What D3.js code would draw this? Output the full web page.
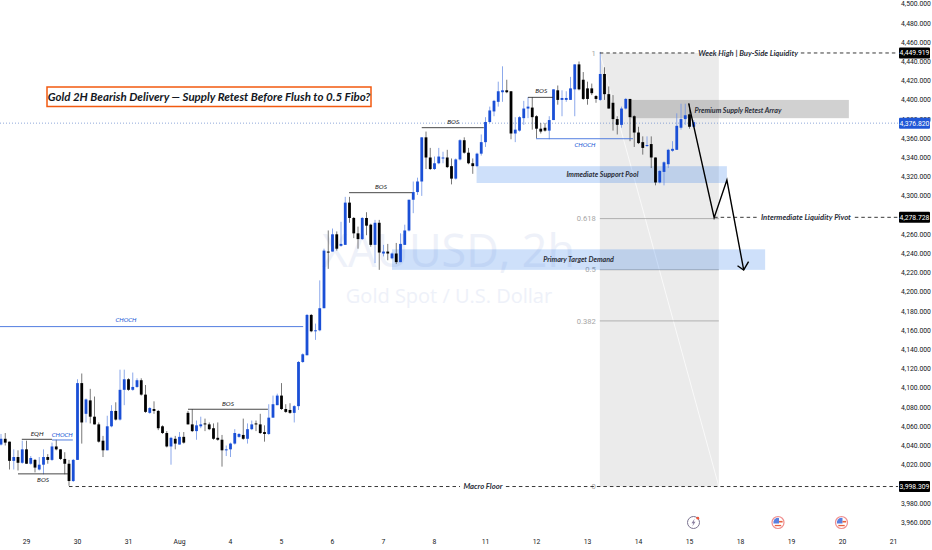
<!doctype html>
<meta charset="utf-8">
<script src="https://d3js.org/d3.v7.min.js"></script>
<style>
html, body { margin: 0; background: #fff; overflow: hidden; }
svg { display: block; }
.note { font-family: Lato, "Open Sans", sans-serif; font-style: italic; font-weight: 700; fill: #2a2e39; }
.thin { font-weight: 400; }
.axis text { font-family: Roboto, sans-serif; fill: #131722; }
.axis .domain { display: none; }
</style>
<body></body>
<script>

var width = 932;
var height = 550;

var opens = [
4041,4047,4044,4024,4028,4022,4036,4021,4025,4015,
4020,4028,4025,4039,4036,4026,4021,4003,4025,4105,
4073,4087,4070,4062,4045,4035,4060,4076,4067,4098,
4109,4098,4101,4108,4093,4074,4078,4076,4060,4053,
4039,4047,4041,4049,4074,4062,4055,4060,4063,4062,
4058,4048,4046,4035,4036,4042,4049,4051,4047,4057,
4063,4062,4054,4052,4069,4082,4092,4078,4077,4074,
4081,4127,4134,4176,4159,4160,4183,4242,4242,4260,
4248,4249,4293,4277,4261,4255,4277,4270,4249,4272,
4240,4242,4235,4240,4231,4249,4264,4296,4304,4315,
4361,4340,4328,4334,4339,4340,4331,4318,4338,4358,
4345,4334,4331,4344,4356,4377,4388,4398,4408,4410,
4409,4365,4368,4381,4391,4392,4383,4370,4371,4368,
4379,4410,4400,4400,4400,4411,4437,4421,4412,4412,
4404,4400,4427,4406,4397,4380,4374,4391,4401,4383,
4366,4356,4352,4354,4340,4314,4325,4333,4347,4348,
4371,4380,4385,4372];

var highs = [
4052,4053,4044,4036,4035,4045,4045,4029,4026,4028,
4036,4031,4043,4046,4036,4033,4025,4026,4109,4115,
4089,4099,4091,4064,4050,4071,4082,4085,4119,4119,
4110,4116,4110,4110,4103,4080,4086,4077,4061,4055,
4049,4050,4054,4054,4076,4078,4066,4070,4068,4064,
4063,4064,4051,4040,4043,4057,4053,4068,4063,4066,
4066,4073,4061,4083,4092,4094,4105,4083,4084,4082,
4128,4136,4177,4177,4167,4212,4245,4264,4266,4263,
4273,4299,4299,4278,4268,4278,4283,4271,4275,4275,
4249,4250,4241,4251,4261,4270,4296,4315,4319,4361,
4367,4350,4341,4350,4346,4348,4339,4339,4359,4361,
4350,4339,4345,4364,4382,4393,4400,4419,4435,4421,
4409,4382,4383,4399,4403,4403,4384,4376,4376,4383,
4411,4415,4410,4409,4424,4437,4440,4429,4419,4417,
4405,4450,4434,4414,4405,4383,4393,4402,4401,4384,
4372,4362,4362,4362,4340,4327,4336,4349,4357,4386,
4396,4396,4396,4379];

var lows = [
4040,4040,4015,4015,4014,4021,4021,4020,4012,4014,
4010,4021,4024,4035,4025,4010,3998,4002,4025,4042,
4064,4063,4062,4043,4028,4035,4059,4066,4066,4082,
4097,4097,4100,4092,4074,4073,4073,4056,4052,4038,
4020,4036,4041,4042,4062,4054,4046,4058,4055,4056,
4046,4045,4018,4029,4028,4041,4048,4046,4042,4056,
4055,4052,4044,4051,4069,4082,4077,4074,4073,4064,
4077,4126,4134,4158,4150,4159,4183,4224,4242,4243,
4247,4249,4272,4256,4245,4254,4259,4247,4230,4223,
4237,4233,4234,4229,4231,4249,4263,4282,4301,4300,
4328,4327,4327,4333,4334,4329,4312,4317,4337,4344,
4333,4323,4330,4342,4351,4376,4383,4393,4398,4407,
4359,4356,4367,4374,4381,4369,4360,4365,4367,4359,
4379,4395,4383,4398,4400,4383,4410,4400,4395,4405,
4397,4399,4400,4391,4368,4364,4371,4390,4357,4351,
4354,4343,4351,4329,4311,4313,4311,4329,4346,4348,
4369,4374,4370,4371];

var closes = [
4047,4043,4024,4028,4022,4036,4021,4027,4017,4020,
4028,4025,4039,4036,4026,4021,4003,4025,4105,4064,
4088,4070,4062,4044,4035,4060,4076,4067,4098,4109,
4098,4101,4108,4093,4075,4079,4076,4058,4053,4039,
4048,4042,4049,4043,4062,4055,4061,4062,4062,4057,
4047,4046,4035,4036,4042,4053,4052,4047,4057,4062,
4062,4053,4052,4069,4083,4092,4078,4075,4074,4081,
4127,4135,4176,4159,4160,4183,4243,4241,4260,4245,
4250,4293,4277,4261,4255,4277,4269,4249,4272,4241,
4242,4240,4240,4231,4250,4264,4296,4304,4315,4361,
4340,4328,4334,4341,4340,4330,4318,4338,4358,4345,
4334,4331,4344,4356,4377,4389,4399,4409,4410,4408,
4365,4369,4382,4391,4393,4382,4370,4367,4368,4379,
4411,4400,4402,4402,4412,4437,4411,4401,4401,4407,
4401,4427,4406,4391,4380,4374,4391,4401,4382,4366,
4355,4350,4353,4340,4314,4326,4335,4348,4349,4373,
4380,4384,4372,4376.82];

var dayLabels = ["29","30","31","Aug","4","5","6","7","8","11","12","13","14","15","18","19","20","21"];
var dayBars = [5.88,17.88,29.88,41.88,53.88,65.88,77.88,89.88,101.88,113.88,125.88,137.88,149.88,161.88,173.88,185.88,197.88,209.88];
// 4,280 and 4,000 sit fully behind the price tags
var priceTicks = d3.range(3960, 4501, 20).filter(function(d) { return d != 4280 && d != 4000; });

// zones: bar from, bar to, price top, price bottom
var zoneSupply = [148.2, 199.5, 4401, 4382];
var zoneSupport = [111.9, 170.8, 4332, 4314.5];
var zoneDemand = [92, 179.8, 4245.4, 4224];

// structure lines: bar from, bar to, price
var blackLines = [[4.9,12,4047.5],[4,15.8,4011.5],[44,62.8,4078.8],[81.9,96.7,4304.4],[99,113.6,4372.1],[124,129.9,4403.7]];
var blueLines = [[-0.3,71.1,4164.9],[12,16.9,4046.8],[125.9,148.7,4360.6]];

// small labels: text, bar, price
var blackLabels = [["BOS",9.9,4005],["BOS",53.4,4084.3],["BOS",89.4,4310.3],["BOS",106.4,4378],["BOS",127.1,4410.3],["EQH",8.5,4053]];
var blueLabels = [["CHOCH",29.4,4171.8],["CHOCH",14.4,4052],["CHOCH",137.4,4354]];
var zoneLabels = [["Immediate Support Pool",141.5,4323.3],["Primary Target Demand",135.9,4234.3],["Premium Supply Retest Array",173.4,4390.5]];
var levelLabels = [["Week High | Buy-Side Liquidity",175.8,4449.919],["Intermediate Liquidity Pivot",189.4,4278.728],["Macro Floor",113.4,3998.309]];

// dashed levels: price, then bar pairs
var dashed = [[4449.919,140.9,163.5],[4449.919,188.2,211.06],[4278.728,167.8,177.9],[4278.728,200.9,211.06],[3998.309,16,108],[3998.309,118.8,211.06]];

var fibHigh = 4449.919;
var fibLow = 3998.309;
var fibFrom = 140.9;
var fibTo = 168.9;
var fibLevels = [1, 0.618, 0.5, 0.382, 0];
var fibText = ["1", "0.618", "0.5", "0.382", "0"];

var arrowBars = [161.8,167.8,170.8,174.75];
var arrowPrices = [4397.5,4278.3,4317.6,4223.9];
var headBars = [173.3,174.75,175.9];
var headPrices = [4228.3,4223.9,4232.5];

var tags = [[4449.919,"4,449.919","#000"],[4376.82,"4,376.820","#2157d6"],[4278.728,"4,278.728","#000"],[3998.309,"3,998.309","#000"]];

var lastPrice = 4376.82;
var axisBar = 211.06;

var x = d3.scaleLinear().domain([0, 163]).range([1, 693.75]);
var y = d3.scaleLinear().domain([4500, 3960]).range([4.9, 523.3]);

var svg = d3.select("body").append("svg")
    .attr("width", width)
    .attr("height", height);

svg.append("rect").attr("width", width).attr("height", height).attr("fill", "#fff");

// watermark
svg.append("text").attr("x", 448.5).attr("y", 267).attr("text-anchor", "middle")
    .attr("font-family", "Open Sans, sans-serif").attr("font-size", 44.8).attr("fill", "#eef1f9")
    .text("XAUUSD, 2h");
svg.append("text").attr("x", 449).attr("y", 303).attr("text-anchor", "middle")
    .attr("font-family", "Open Sans, sans-serif").attr("font-size", 20).attr("fill", "#eef1f9")
    .text("Gold Spot / U.S. Dollar");

// fib box
svg.append("rect")
    .attr("x", x(fibFrom)).attr("y", y(fibHigh))
    .attr("width", x(fibTo) - x(fibFrom)).attr("height", y(fibLow) - y(fibHigh))
    .attr("fill", "#ebebeb");
svg.append("line")
    .attr("x1", x(fibFrom)).attr("y1", y(fibHigh)).attr("x2", x(fibTo)).attr("y2", y(fibLow))
    .attr("stroke", "#fff").attr("stroke-width", 1).attr("stroke-opacity", 0.7);

var fibPrice = function(l) { return fibLow + l * (fibHigh - fibLow); };

svg.selectAll(".fib").data(fibLevels.slice(1, 4)).enter().append("line")
    .attr("class", "fib")
    .attr("x1", x(fibFrom)).attr("x2", x(fibTo))
    .attr("y1", function(d) { return y(fibPrice(d)); })
    .attr("y2", function(d) { return y(fibPrice(d)); })
    .attr("stroke", "#8a8a8a").attr("stroke-width", 0.6);

svg.selectAll(".fibtext").data(fibLevels).enter().append("text")
    .attr("class", "fibtext")
    .attr("x", x(fibFrom) - 4)
    .attr("y", function(d) { return y(fibPrice(d)); })
    .attr("dy", "0.35em")
    .attr("text-anchor", "end")
    .attr("font-family", "Roboto, sans-serif").attr("font-size", 7.6).attr("fill", "#a6a6a6")
    .text(function(d, i) { return fibText[i]; });

// zones
function zone(z, color, op) {
    svg.append("rect")
        .attr("x", x(z[0])).attr("y", y(z[2]))
        .attr("width", x(z[1]) - x(z[0])).attr("height", y(z[3]) - y(z[2]))
        .attr("fill", color).attr("fill-opacity", op);
}
zone(zoneSupport, "#2a7be8", 0.23);
zone(zoneDemand, "#2a7be8", 0.23);
zone(zoneSupply, "#8c8c8c", 0.4);

// last price dotted
svg.append("line")
    .attr("x1", 0).attr("x2", x(axisBar))
    .attr("y1", y(lastPrice)).attr("y2", y(lastPrice))
    .attr("stroke", "#5f82c9").attr("stroke-width", 0.7).attr("stroke-dasharray", "1 2");

// candles
var idx = d3.range(opens.length);
var isUp = function(i) { return closes[i] >= opens[i]; };

svg.append("g").selectAll("line").data(idx).enter().append("line")
    .attr("x1", function(i) { return x(i); })
    .attr("x2", function(i) { return x(i); })
    .attr("y1", function(i) { return y(highs[i]) - 1; })
    .attr("y2", function(i) { return y(lows[i]) - 1; })
    .attr("stroke", function(i) { return isUp(i) ? "#6f93e6" : "#555"; })
    .attr("stroke-width", 0.8);

svg.append("g").selectAll("rect").data(idx).enter().append("rect")
    .attr("x", function(i) { return x(i) - 1.4; })
    .attr("width", 2.8)
    .attr("y", function(i) { return y(Math.max(opens[i], closes[i])) - 1; })
    .attr("height", function(i) { return Math.max(1, Math.abs(y(opens[i]) - y(closes[i]))); })
    .attr("fill", function(i) { return isUp(i) ? "#1a4fd6" : "#000"; });

// structure lines
function segs(data, color, w) {
    svg.append("g").selectAll("line").data(data).enter().append("line")
        .attr("x1", function(d) { return x(d[0]); })
        .attr("x2", function(d) { return x(d[1]); })
        .attr("y1", function(d) { return y(d[2]); })
        .attr("y2", function(d) { return y(d[2]); })
        .attr("stroke", color).attr("stroke-width", w);
}
segs(blackLines, "#333", 0.9);
segs(blueLines, "#3f6fdc", 0.9);

// dashed levels
svg.append("g").selectAll("line").data(dashed).enter().append("line")
    .attr("x1", function(d) { return x(d[1]); })
    .attr("x2", function(d) { return x(d[2]); })
    .attr("y1", function(d) { return y(d[0]); })
    .attr("y2", function(d) { return y(d[0]); })
    .attr("stroke", "#222").attr("stroke-width", 0.9).attr("stroke-dasharray", "3.5 3");

// labels
function labels(data, size, color, cls) {
    svg.append("g").selectAll("text").data(data).enter().append("text")
        .attr("class", cls)
        .attr("x", function(d) { return x(d[1]); })
        .attr("y", function(d) { return y(d[2]); })
        .attr("dy", "0.35em")
        .attr("text-anchor", "middle")
        .attr("font-size", size)
        .style("fill", color)
        .text(function(d) { return d[0]; });
}
labels(blackLabels, 6.5, "#222", "note thin");
labels(blueLabels, 6.2, "#2157d6", "note thin");
labels(zoneLabels, 7.1, "#2a2e39", "note");
labels(levelLabels, 7.7, "#2a2e39", "note");

// forecast arrow
var arrowLine = d3.line().x(function(d) { return x(d[0]); }).y(function(d) { return y(d[1]); });
svg.append("path")
    .attr("d", arrowLine(d3.zip(arrowBars, arrowPrices)))
    .attr("fill", "none").attr("stroke", "#000").attr("stroke-width", 1.4);
svg.append("path")
    .attr("d", arrowLine(d3.zip(headBars, headPrices)))
    .attr("fill", "none").attr("stroke", "#000").attr("stroke-width", 1.4);

// title
svg.append("rect")
    .attr("x", 47).attr("y", 87).attr("width", 324).attr("height", 19.5)
    .attr("fill", "#fff").attr("stroke", "#f2590f").attr("stroke-width", 1.5);
svg.append("text").attr("class", "note")
    .attr("x", 209).attr("y", 97).attr("dy", "0.35em").attr("text-anchor", "middle")
    .attr("font-size", 11.5).style("fill", "#131722")
    .text("Gold 2H Bearish Delivery \u2014 Supply Retest Before Flush to 0.5 Fibo?");

// axes
svg.append("g").attr("class", "axis")
    .attr("transform", "translate(0,536)")
    .call(d3.axisBottom(x).tickValues(dayBars).tickSize(0)
        .tickFormat(function(d, i) { return dayLabels[i]; }))
    .selectAll("text").attr("font-size", 6.8);

svg.append("g").attr("class", "axis")
    .attr("transform", "translate(" + 901 + ",-1.2)")
    .call(d3.axisRight(y).tickValues(priceTicks).tickSize(0).tickPadding(0)
        .tickFormat(function(d) { return d3.format(",.3f")(d); }))
    .selectAll("text").attr("font-size", 6.8);

// price tags
var tag = svg.append("g").selectAll("g").data(tags).enter().append("g")
    .attr("transform", function(d) { return "translate(899," + y(d[0]) + ")"; });
tag.append("rect").attr("x", 0).attr("y", -5.5).attr("width", 31).attr("height", 11)
    .attr("rx", 1).attr("fill", function(d) { return d[2]; });
tag.append("text").attr("x", 15.5).attr("dy", "0.35em").attr("text-anchor", "middle")
    .attr("font-family", "Roboto, sans-serif").attr("font-size", 6.8).attr("fill", "#fff")
    .text(function(d) { return d[1]; });

// calendar icons
var bolt = svg.append("g").attr("transform", "translate(693.5,522.5)");
bolt.append("circle").attr("r", 6).attr("fill", "#fff").attr("stroke", "#7b7390").attr("stroke-width", 1);
bolt.append("path").attr("d", "M1.2,-4 L-2,0.7 L-0.2,0.7 L-1.2,4 L2,-0.7 L0.2,-0.7 Z").attr("fill", "#8a7fa0");
bolt.append("circle").attr("cx", 4.3).attr("cy", -4.3).attr("r", 1.4).attr("fill", "#f0563a");

[778, 841.5].forEach(function(cx) {
    var g = svg.append("g").attr("transform", "translate(" + cx + ",522.5)");
    g.append("circle").attr("r", 6).attr("fill", "#fff").attr("stroke", "#f08f8f").attr("stroke-width", 1.2);
    g.append("path").attr("d", "M-4.6,1 A4.8,4.8 0 0 1 1,-4.6 L1,1 Z").attr("fill", "#5a80e0");
    g.append("rect").attr("x", 1).attr("y", -1.6).attr("width", 3.6).attr("height", 1.6).attr("fill", "#e8603c");
    g.append("rect").attr("x", -3.2).attr("y", 2.4).attr("width", 6.4).attr("height", 1.3).attr("fill", "#e8603c");
});

</script>
